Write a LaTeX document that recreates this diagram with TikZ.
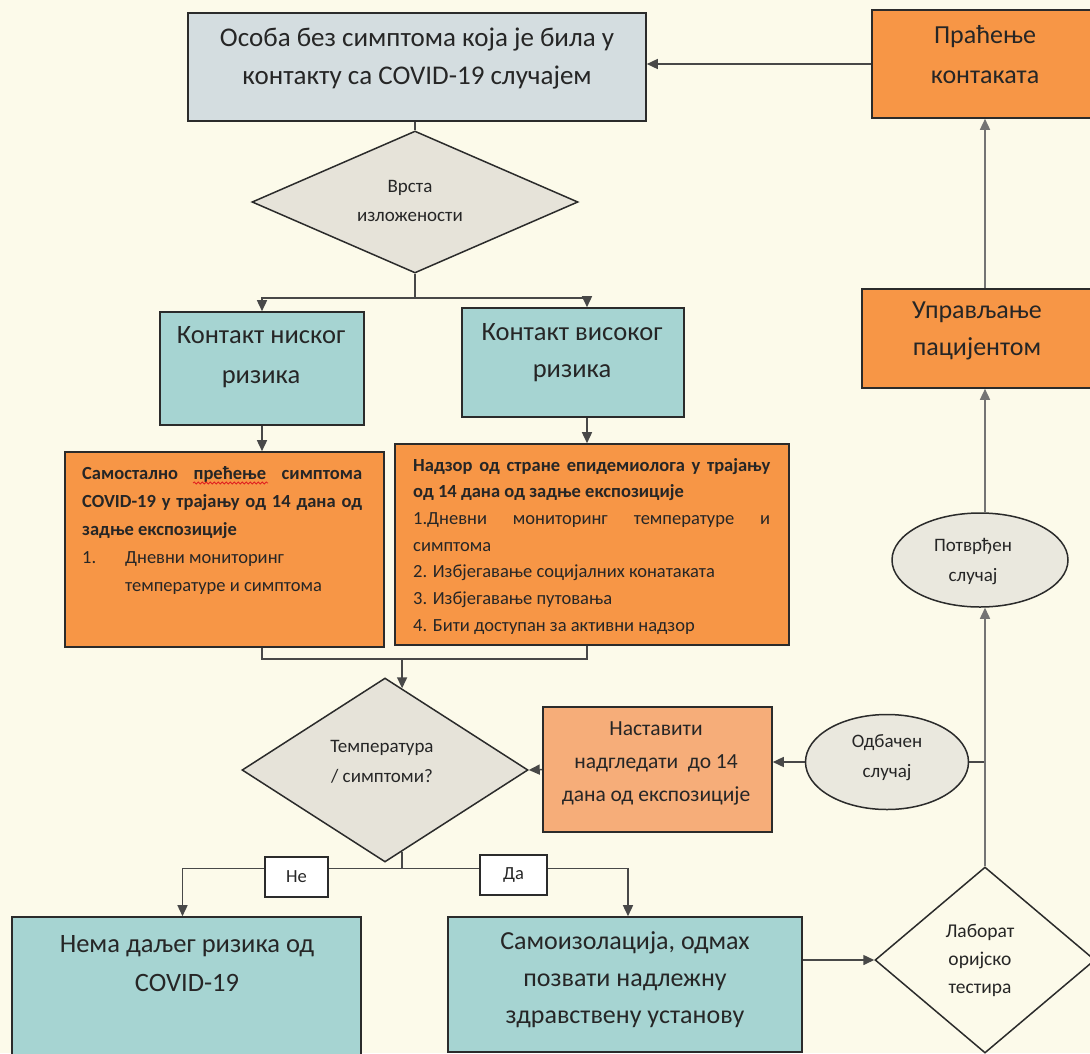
\documentclass[tikz,border=0pt]{standalone}
\usepackage{fontspec}
\setmainfont{Carlito}
\usetikzlibrary{shapes.geometric,arrows.meta,calc,decorations.pathmorphing}
\definecolor{bgc}{HTML}{FCFAEA}
\definecolor{topc}{HTML}{D4DDE0}
\definecolor{tealc}{HTML}{A6D4D2}
\definecolor{orc}{HTML}{F79646}
\definecolor{lorc}{HTML}{F6AD79}
\definecolor{dmc}{HTML}{E6E3D9}
\definecolor{elc}{HTML}{EAE8DE}
\definecolor{edgec}{HTML}{2B2B2B}
\definecolor{linec}{HTML}{484848}
\definecolor{lineg}{HTML}{747474}
\definecolor{txtc}{HTML}{262626}
\definecolor{wavec}{HTML}{E02020}
\newcommand\fs[2]{\fontsize{#1}{#2}\selectfont}
\pgfdeclarelayer{paper}
\pgfdeclarelayer{conn}
\pgfsetlayers{paper,conn,main}
\begin{document}
\begin{tikzpicture}[x=1pt,y=-1pt,
  rbox/.style={draw=edgec,line width=1.6pt,inner sep=0pt},
  dshape/.style={shape=diamond,draw=edgec,line width=1.5pt,inner sep=0pt},
  eshape/.style={shape=ellipse,draw=edgec,line width=1.5pt,inner sep=0pt,fill=elc},
  txt/.style={text=txtc,align=center,inner sep=0pt},
  ln/.style={draw=linec,line width=1.5pt},
  arr/.style={draw=linec,line width=1.5pt,-{Triangle[length=11pt,width=10pt]}},
  arrg/.style={draw=lineg,line width=1.5pt,-{Triangle[length=11pt,width=10pt]}}]
\useasboundingbox (0,0) rectangle (1090,1053);
\begin{pgfonlayer}{paper}
\fill[bgc] (0,0) rectangle (1090,1053);
\end{pgfonlayer}
% boxes
\node[rbox,fill=topc,minimum width=458pt,minimum height=108pt] (top) at (417,67) {};
\node[rbox,fill=orc,minimum width=223pt,minimum height=108pt] (prac) at (983.5,64) {};
\node[rbox,fill=orc,minimum width=233pt,minimum height=99pt] (uprav) at (978.5,338.5) {};
\node[rbox,fill=tealc,minimum width=204pt,minimum height=113pt] (lowT) at (262,368.5) {};
\node[rbox,fill=tealc,minimum width=222pt,minimum height=109pt] (highT) at (573,362.5) {};
\node[rbox,fill=orc,minimum width=319pt,minimum height=195pt] (lowO) at (224.5,549.5) {};
\node[rbox,fill=orc,minimum width=394pt,minimum height=201pt] (highO) at (592,544.5) {};
\node[rbox,fill=lorc,minimum width=229pt,minimum height=125pt] (nast) at (657.5,769.5) {};
\node[rbox,fill=tealc,minimum width=349pt,minimum height=143pt] (nema) at (186.5,988.5) {};
\node[rbox,fill=tealc,minimum width=354pt,minimum height=135pt] (samo) at (625,984.5) {};
\node[rbox,fill=white,line width=1.3pt,minimum width=63pt,minimum height=40pt,text=txtc,font=\fs{18.5}{22}] (ne) at (296.5,877) {Не};
\node[rbox,fill=white,line width=1.3pt,minimum width=67pt,minimum height=40pt,text=txtc,font=\fs{18.5}{22}] (da) at (513.5,875) {Да};
% diamonds and ellipses
\node[dshape,fill=dmc,minimum width=326pt,minimum height=142pt] (vrsta) at (415,202) {};
\node[dshape,fill=dmc,minimum width=286pt,minimum height=184pt] (temp) at (385,770) {};
\node[dshape,fill=bgc,minimum width=220pt,minimum height=186pt] (lab) at (985,960) {};
\node[eshape,minimum width=176pt,minimum height=94pt] (potv) at (980,560) {};
\node[eshape,minimum width=163pt,minimum height=95pt] (odb) at (887,762) {};
% texts
\node[txt,font=\fs{27}{38}] (topT) at (417,59) {Особа без симптома која је била у\\контакту са COVID-19 случајем};
\node[txt,font=\fs{26}{40}] (pracT) at (985,55) {Праћење\\контаката};
\node[txt,font=\fs{26}{37}] (upravT) at (977,331) {Управљање\\пацијентом};
\node[txt,font=\fs{26.5}{40}] (lowTT) at (261,357) {Контакт ниског\\ризика};
\node[txt,font=\fs{26.5}{37}] (highTT) at (572,353) {Контакт високог\\ризика};
\node[txt,font=\fs{19}{29}] (vrstaT) at (410,201) {Врста\\изложености};
\node[txt,font=\fs{19}{30}] (tempT) at (382,762) {Температура\\/ симптоми?};
\node[txt,font=\fs{21.5}{33}] (nastT) at (656,763) {Наставити\\надгледати\ \ до 14\\дана од експозиције};
\node[txt,font=\fs{19}{30}] (odbT) at (887,758) {Одбачен\\случај};
\node[txt,font=\fs{19}{30}] (potvT) at (973,562) {Потврђен\\случај};
\node[txt,font=\fs{19.5}{28}] (labT) at (980,960) {Лаборат\\оријско\\тестира};
\node[txt,font=\fs{26.5}{39}] (nemaT) at (187,964) {Нема даљег ризика од\\COVID-19};
\node[txt,font=\fs{26}{37}] (samoT) at (625,980) {Самоизолација, одмах\\позвати надлежну\\здравствену установу};
\node[txt,anchor=base west] (lowOT) at (82,479) {\parbox[t]{280pt}{\fs{18.5}{28}%
\bfseries\makebox[280pt][s]{Самостално прећење симптома}\\
\makebox[280pt][s]{COVID-19 у трајању од 14 дана од}\\
задње експозиције\\
\mdseries\makebox[43pt][l]{1.}Дневни мониторинг\\
\hspace*{43pt}температуре и симптома}};
\node[txt,anchor=base west] (highOT) at (413,471) {\parbox[t]{357pt}{\fs{18.5}{26.7}%
\bfseries\makebox[357pt][s]{Надзор од стране епидемиолога у трајању}\\
од 14 дана од задње експозиције\\
\mdseries\makebox[357pt][s]{1.Дневни мониторинг температуре и}\\
симптома\\
2. Избјегавање социјалних конатаката\\
3. Избјегавање путовања\\
4. Бити доступан за активни надзор}};
% spell-check wave
\draw[wavec,line width=0.8pt,decorate,decoration={snake,amplitude=1pt,segment length=4pt}] (193,483) -- (268,483);
% connectors
\coordinate (tin) at ($(temp.north)!0.119!(temp.east)$);
\coordinate (tout) at ($(temp.south)!0.119!(temp.east)$);
\begin{pgfonlayer}{conn}
\draw[arr] (prac.west) -- (prac.west -| top.east);
\draw[ln] (vrsta.north |- top.south) -- (vrsta.north);
\draw[ln] (vrsta.south) -- ++(0,24) coordinate (b1);
\draw[arr] (b1) -| (lowT.north);
\draw[arr] (b1) -| ($(highT.north)+(14,0)$);
\draw[arr] (lowT.south) -- (lowT.south |- lowO.north);
\draw[arr] ($(highT.south)+(14,0)$) -- ($(highO.north)+(-5,0)$);
\draw[ln] (lowT.south |- lowO.south) -- ++(0,11) -| ($(highO.south)+(-5,0)$);
\draw[arr] (tin |- lowO.south) ++(0,11) -- (tin);
\draw[ln] (tout) -- ++(0,17) coordinate (b3);
\draw[arr] (b3) -| ($(nema.north)+(-4,0)$);
\draw[arr] (b3) -| ($(samo.north)+(3,0)$);
\draw[arr] (nast.west) -- (temp.east);
\draw[arr] (odb.west) -- (odb.west -| nast.east);
\draw[ln] (odb.east) -- (odb.east -| lab.north);
\draw[arr] (lab.west -| samo.east) -- (lab.west);
\draw[arrg] (lab.north) -- (potv.south -| lab.north);
\draw[arrg] (potv.north -| lab.north) -- (uprav.south -| lab.north);
\draw[arrg] (uprav.north -| lab.north) -- (prac.south -| lab.north);
\end{pgfonlayer}
\end{tikzpicture}
\end{document}
